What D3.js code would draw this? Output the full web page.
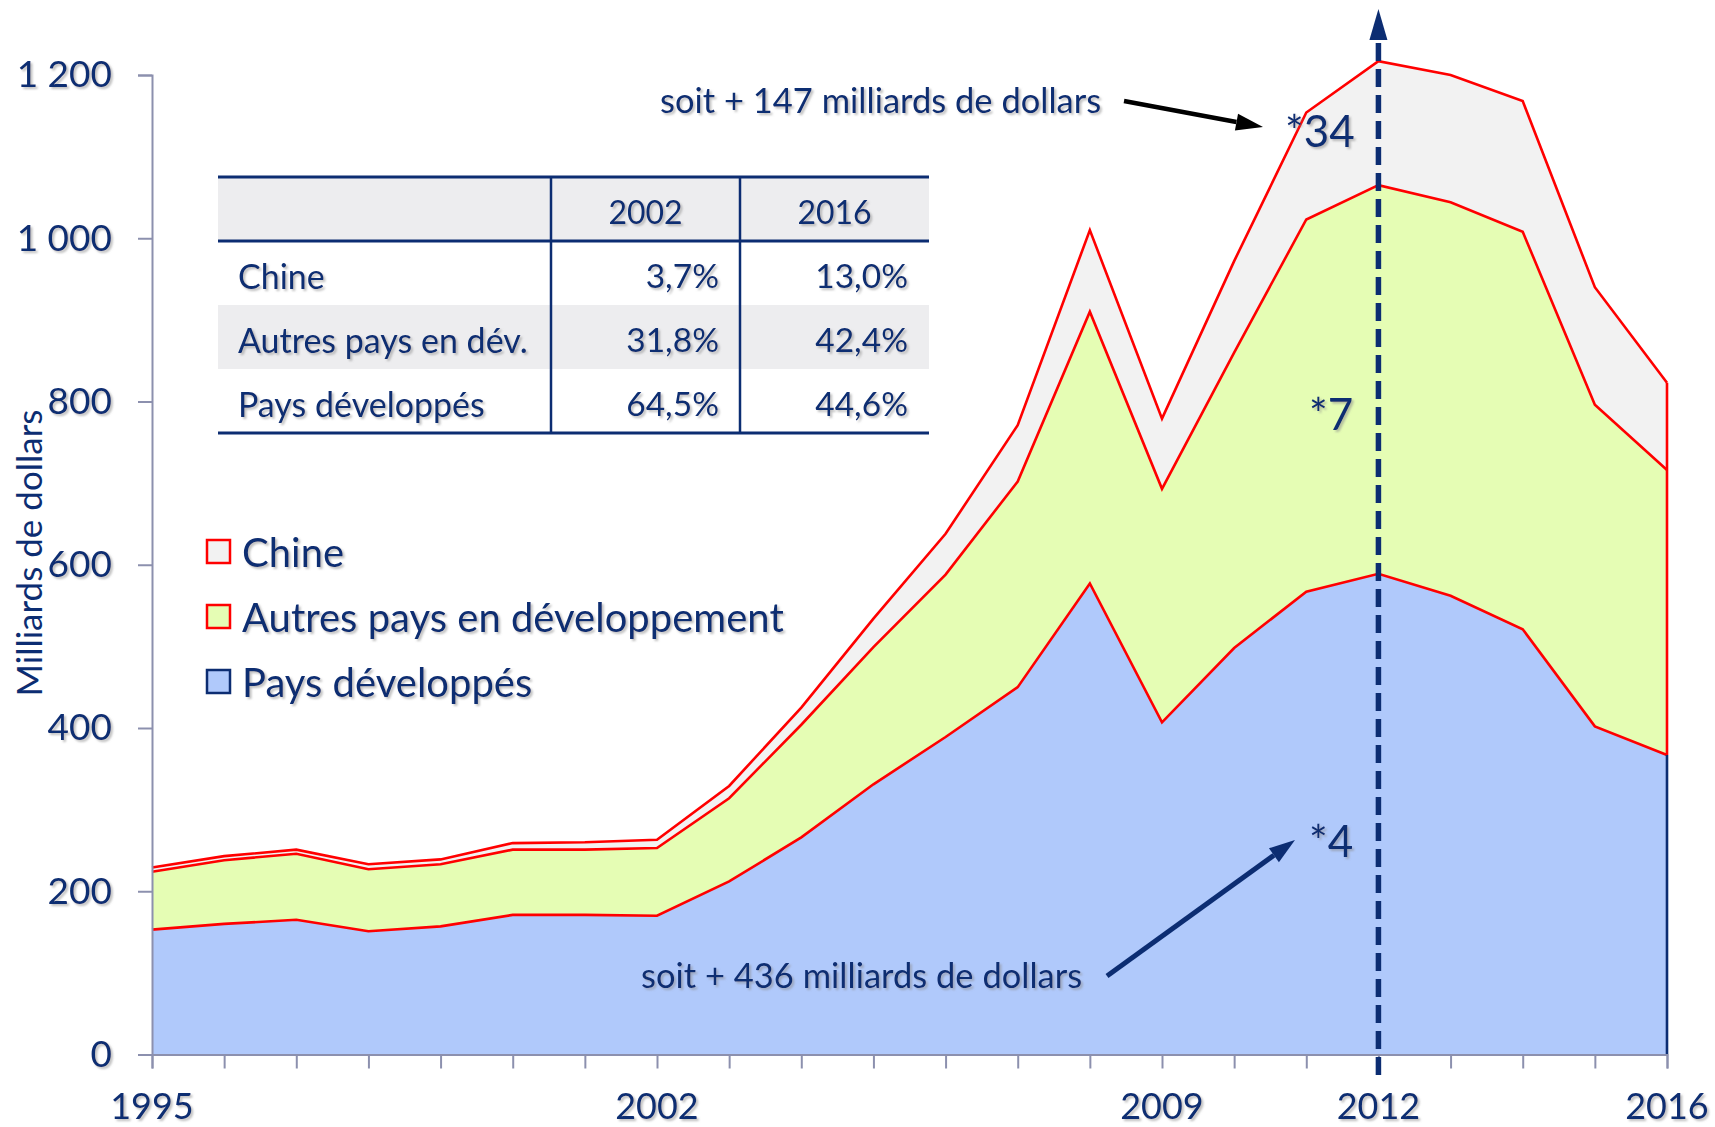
<!DOCTYPE html>
<html>
<head>
<meta charset="utf-8">
<script src="https://cdn.jsdelivr.net/npm/d3@7"></script>
<style>
  body { margin: 0; background: #fff; }
  svg text { font-family: Lato, "Noto Sans", sans-serif; fill: #0c2d72; }
</style>
</head>
<body>
<div id="container"></div>
<script>
/* CONSTANTS AND GLOBALS */
const width = 1715,
  height = 1127,
  margin = { top: 75, bottom: 72.5, left: 152, right: 48 };

const navy = "#0c2d72",
  axisColor = "#8c90ae";

/* DATA */
const years = d3.range(1995, 2017);
const developpes = [153, 160, 165, 151, 157, 171, 171, 170, 212, 266, 331, 389, 450, 577, 407, 498, 567, 589, 562, 521, 402, 367];
const autresDev = [71, 78, 81, 76, 76, 80, 80, 83, 102, 138, 168, 199, 252, 333, 286, 362, 456, 476, 482, 487, 394, 349];
const chine = [5, 5, 5, 6, 6, 8, 9, 10, 15, 21, 35, 50, 69, 100, 86, 112, 131, 152, 156, 160, 144, 107];

const yTicks = [0, 200, 400, 600, 800, 1000, 1200];
const xLabels = [1995, 2002, 2009, 2012, 2016];

const seriesNames = ["Pays développés", "Autres pays en développement", "Chine"];
const seriesFill = ["#b0c9fb", "#e5fdb4", "#f2f2f2"];
const legendStroke = [navy, "#ff0000", "#ff0000"];

const tableHead = ["", "2002", "2016"];
const tableRows = ["Chine", "Autres pays en dév.", "Pays développés"];
const share2002 = ["3,7%", "31,8%", "64,5%"];
const share2016 = ["13,0%", "42,4%", "44,6%"];

/* SCALES */
const xScale = d3.scaleLinear()
  .domain([1995, 2016])
  .range([margin.left, width - margin.right]);

const yScale = d3.scaleLinear()
  .domain([0, 1200])
  .range([height - margin.bottom, margin.top]);

// stack the three series
const rows = years.map((y, i) => ({ year: y, dev: developpes[i], autres: autresDev[i], chine: chine[i] }));
const stack = d3.stack().keys(["dev", "autres", "chine"]);
const stacked = stack(rows);

/* DRAW */
const svg = d3.select("#container")
  .append("svg")
  .attr("width", width)
  .attr("height", height);

// soft text shadow like the original
const defs = svg.append("defs");
defs.append("filter")
  .attr("id", "shadow")
  .attr("x", "-10%").attr("y", "-20%").attr("width", "130%").attr("height", "150%")
  .append("feDropShadow")
  .attr("dx", 2).attr("dy", 2).attr("stdDeviation", 1.2)
  .attr("flood-color", "#8a8a8a").attr("flood-opacity", 0.55);

const area = d3.area()
  .x(d => xScale(d.data.year))
  .y0(d => yScale(d[0]))
  .y1(d => yScale(d[1]));

svg.append("g")
  .selectAll("path")
  .data(stacked)
  .join("path")
  .attr("d", area)
  .attr("fill", (d, i) => seriesFill[i]);

// red boundary lines on top of each layer
const line = d3.line()
  .x(d => xScale(d.data.year))
  .y(d => yScale(d[1]));

svg.append("g")
  .selectAll("path")
  .data(stacked)
  .join("path")
  .attr("d", line)
  .attr("fill", "none")
  .attr("stroke", "#ff0000")
  .attr("stroke-width", 2.6)
  .attr("stroke-linejoin", "miter");

// right edge of the areas
const last = years.length - 1;
svg.append("line")
  .attr("x1", xScale(2016)).attr("x2", xScale(2016))
  .attr("y1", yScale(stacked[2][last][1])).attr("y2", yScale(stacked[0][last][1]))
  .attr("stroke", "#ff0000").attr("stroke-width", 2.6);
svg.append("line")
  .attr("x1", xScale(2016)).attr("x2", xScale(2016))
  .attr("y1", yScale(stacked[0][last][1])).attr("y2", yScale(0))
  .attr("stroke", navy).attr("stroke-width", 2.6);

// y axis
const yAxis = svg.append("g")
  .attr("transform", `translate(${margin.left},0)`)
  .call(d3.axisLeft(yScale).tickValues(yTicks).tickSize(14).tickPadding(26)
    .tickFormat(d => d3.format(",")(d).replace(",", " ")));
yAxis.select(".domain").attr("stroke", axisColor).attr("stroke-width", 2);
yAxis.selectAll(".tick line").attr("stroke", axisColor).attr("stroke-width", 2);
yAxis.selectAll(".tick text")
  .attr("font-size", 37)
  .attr("fill", navy)
  .attr("filter", "url(#shadow)")
  .style("font-family", "Lato");

// x axis
const xAxis = svg.append("g")
  .attr("transform", `translate(0,${yScale(0)})`)
  .call(d3.axisBottom(xScale).tickValues(years).tickSize(14).tickFormat(""));
xAxis.select(".domain").attr("stroke", axisColor).attr("stroke-width", 2);
xAxis.selectAll(".tick line").attr("stroke", axisColor).attr("stroke-width", 2);

svg.append("g")
  .selectAll("text")
  .data(xLabels)
  .join("text")
  .attr("x", d => xScale(d))
  .attr("y", 1119)
  .attr("text-anchor", "middle")
  .attr("font-size", 36)
  .attr("filter", "url(#shadow)")
  .text(d => d);

// y axis title
svg.append("text")
  .attr("transform", `translate(28,553) rotate(-90)`)
  .attr("text-anchor", "middle")
  .attr("dominant-baseline", "central")
  .attr("font-size", 35)
  .text("Milliards de dollars");

// dashed 2012 line with arrow
const x2012 = xScale(2012);
svg.append("line")
  .attr("x1", x2012).attr("x2", x2012)
  .attr("y1", 1075).attr("y2", 38)
  .attr("stroke", navy).attr("stroke-width", 5.5)
  .attr("stroke-dasharray", "18,8");
svg.append("path")
  .attr("d", `M${x2012},9 L${x2012 - 9},40 L${x2012 + 9},40 Z`)
  .attr("fill", navy);

// arrows for annotations
function arrow(x1, y1, x2, y2, color, w, headLen, headW) {
  const a = Math.atan2(y2 - y1, x2 - x1);
  const bx = x2 - headLen * Math.cos(a), by = y2 - headLen * Math.sin(a);
  svg.append("line")
    .attr("x1", x1).attr("y1", y1).attr("x2", bx).attr("y2", by)
    .attr("stroke", color).attr("stroke-width", w);
  const px = -Math.sin(a) * headW / 2, py = Math.cos(a) * headW / 2;
  svg.append("path")
    .attr("d", `M${x2},${y2} L${bx + px},${by + py} L${bx - px},${by - py} Z`)
    .attr("fill", color);
}
arrow(1124, 101, 1263, 127, "#000", 4.5, 27, 17);
arrow(1107, 976, 1295, 840, navy, 5, 26, 17);

// annotation texts
const notes = [
  { t: "soit + 147 milliards de dollars", x: 660, y: 113, s: 34.5 },
  { t: "soit + 436 milliards de dollars", x: 641, y: 988, s: 34.5 },
  { t: "*34", x: 1285, y: 147, s: 44 },
  { t: "*7", x: 1309, y: 430, s: 44 },
  { t: "*4", x: 1309, y: 857, s: 44 }
];
svg.append("g")
  .selectAll("text")
  .data(notes)
  .join("text")
  .attr("x", d => d.x)
  .attr("y", d => d.y)
  .attr("font-size", d => d.s)
  .attr("filter", "url(#shadow)")
  .text(d => d.t);

// legend (Chine on top)
const legendY = [552, 617, 682];
const legend = svg.append("g");
[2, 1, 0].forEach((k, i) => {
  legend.append("rect")
    .attr("x", 207).attr("y", legendY[i] - 12)
    .attr("width", 23).attr("height", 23)
    .attr("fill", seriesFill[k])
    .attr("stroke", legendStroke[k])
    .attr("stroke-width", 2.5);
  legend.append("text")
    .attr("x", 242).attr("y", legendY[i])
    .attr("dominant-baseline", "central")
    .attr("font-size", 40)
    .attr("filter", "url(#shadow)")
    .text(seriesNames[k]);
});

// share table
const tx = [218, 551, 740, 929],
  ty = [177, 241, 305, 369, 433];
const table = svg.append("g");
table.append("rect").attr("x", tx[0]).attr("y", ty[0]).attr("width", tx[3] - tx[0]).attr("height", ty[1] - ty[0]).attr("fill", "#ededef");
table.append("rect").attr("x", tx[0]).attr("y", ty[2]).attr("width", tx[3] - tx[0]).attr("height", ty[3] - ty[2]).attr("fill", "#ededef");
[ty[0], ty[1], ty[4]].forEach(y => {
  table.append("line").attr("x1", tx[0]).attr("x2", tx[3]).attr("y1", y).attr("y2", y)
    .attr("stroke", navy).attr("stroke-width", 3);
});
[tx[1], tx[2]].forEach(x => {
  table.append("line").attr("x1", x).attr("x2", x).attr("y1", ty[0]).attr("y2", ty[4])
    .attr("stroke", navy).attr("stroke-width", 2.5);
});
tableHead.forEach((h, j) => {
  if (!h) return;
  table.append("text")
    .attr("x", (tx[j] + tx[j + 1]) / 2).attr("y", (ty[0] + ty[1]) / 2 + 2)
    .attr("text-anchor", "middle").attr("dominant-baseline", "central")
    .attr("font-size", 32).attr("filter", "url(#shadow)")
    .text(h);
});
tableRows.forEach((r, i) => {
  const cy = (ty[i + 1] + ty[i + 2]) / 2 + 2;
  table.append("text").attr("x", 238).attr("y", cy)
    .attr("dominant-baseline", "central").attr("font-size", 34).attr("filter", "url(#shadow)")
    .text(r);
  table.append("text").attr("x", 719).attr("y", cy)
    .attr("text-anchor", "end").attr("dominant-baseline", "central").attr("font-size", 33.5).attr("filter", "url(#shadow)")
    .text(share2002[i]);
  table.append("text").attr("x", 908).attr("y", cy)
    .attr("text-anchor", "end").attr("dominant-baseline", "central").attr("font-size", 33.5).attr("filter", "url(#shadow)")
    .text(share2016[i]);
});
</script>
</body>
</html>
